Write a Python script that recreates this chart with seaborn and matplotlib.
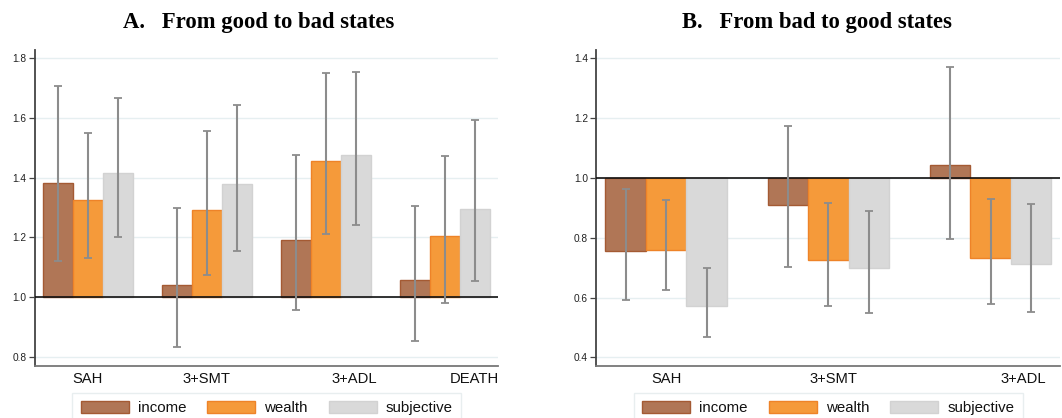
import numpy as np
import pandas as pd
import matplotlib
matplotlib.use("Agg")
import matplotlib.pyplot as plt
import seaborn as sns

# Panel A: from good to bad states
cats_a = ["SAH", "3+SMT", "3+ADL", "DEATH"]
income_a = [1.382, 1.040, 1.190, 1.056]
income_a_lo = [1.120, 0.834, 0.958, 0.853]
income_a_hi = [1.708, 1.300, 1.476, 1.306]
wealth_a = [1.325, 1.293, 1.456, 1.204]
wealth_a_lo = [1.132, 1.074, 1.211, 0.981]
wealth_a_hi = [1.550, 1.555, 1.749, 1.473]
subj_a = [1.417, 1.379, 1.475, 1.295]
subj_a_lo = [1.202, 1.154, 1.240, 1.054]
subj_a_hi = [1.667, 1.643, 1.753, 1.594]

# Panel B: from bad to good states
cats_b = ["SAH", "3+SMT", "3+ADL"]
income_b = [0.755, 0.909, 1.044]
income_b_lo = [0.591, 0.703, 0.795]
income_b_hi = [0.964, 1.174, 1.370]
wealth_b = [0.759, 0.725, 0.733]
wealth_b_lo = [0.624, 0.573, 0.579]
wealth_b_hi = [0.926, 0.915, 0.930]
subj_b = [0.573, 0.698, 0.712]
subj_b_lo = [0.469, 0.548, 0.551]
subj_b_hi = [0.699, 0.889, 0.914]

series = ["income", "wealth", "subjective"]
colors = {"income": "#B07656", "wealth": "#F59A3A", "subjective": "#D9D9D9"}
edges = {"income": "#A45A33", "wealth": "#EE8328", "subjective": "#D2D2D2"}


def long_frame(cats, vals, los, his):
    rows = []
    for s, v, lo, hi in zip(series, vals, los, his):
        for c, a, b, d in zip(cats, v, lo, hi):
            rows.append({"cat": c, "series": s, "value": a, "lo": b, "hi": d})
    return pd.DataFrame(rows)


df_a = long_frame(cats_a, [income_a, wealth_a, subj_a],
                  [income_a_lo, wealth_a_lo, subj_a_lo],
                  [income_a_hi, wealth_a_hi, subj_a_hi])
df_b = long_frame(cats_b, [income_b, wealth_b, subj_b],
                  [income_b_lo, wealth_b_lo, subj_b_lo],
                  [income_b_hi, wealth_b_hi, subj_b_hi])

sns.set_style("white")
plt.rcParams["font.family"] = ["Liberation Sans", "DejaVu Sans"]

fig = plt.figure(figsize=(10.62, 4.18), dpi=100)
ax_a = fig.add_axes([0.033, 0.1244, 0.436, 0.756])
ax_b = fig.add_axes([0.5615, 0.1244, 0.437, 0.756])


def draw_panel(ax, df, cats, title, title_x, ylim, yticks, xlim, label_pos):
    df = df.copy()
    df["height"] = df["value"] - 1.0
    sns.barplot(data=df, x="cat", y="height", hue="series", order=cats,
                hue_order=series, palette=colors, saturation=1, width=0.75, gap=0,
                bottom=1.0, errorbar=None, legend=False, ax=ax, zorder=2,
                linewidth=1.0)
    for cont, s in zip(ax.containers, series):
        sub = df[df["series"] == s].set_index("cat").loc[cats]
        xs = []
        for p in cont.patches:
            p.set_edgecolor(edges[s])
            xs.append(p.get_x() + p.get_width() / 2)
        yerr = [sub["value"] - sub["lo"], sub["hi"] - sub["value"]]
        ax.errorbar(xs, sub["value"], yerr=yerr, fmt="none", ecolor="#8C8C8C",
                    elinewidth=1.5, capsize=3, capthick=1.3, zorder=4)
    ax.axhline(1.0, color="#111111", lw=1.2, zorder=3)
    ax.set_ylim(*ylim)
    ax.set_xlim(*xlim)
    ax.set_yticks(yticks)
    ax.set_yticklabels([f"{t:.1f}" for t in yticks])
    ax.yaxis.grid(True, color="#E6EFF1", lw=1.0, zorder=0)
    ax.set_axisbelow(True)
    ax.set_xticks(label_pos)
    ax.set_xticklabels(cats)
    ax.set_xlabel("")
    ax.set_ylabel("")
    ax.tick_params(axis="x", length=0, pad=4, labelsize=10.6, colors="#111111")
    ax.tick_params(axis="y", length=4, width=0.9, pad=2, labelsize=7.3,
                   color="#444444", labelcolor="#222222", left=True)
    for side in ["top", "right"]:
        ax.spines[side].set_visible(False)
    ax.spines["left"].set_color("#444444")
    ax.spines["left"].set_linewidth(1.3)
    ax.spines["bottom"].set_color("#777777")
    ax.spines["bottom"].set_linewidth(1.3)
    ax.set_title(title, x=title_x, pad=16, fontsize=16.3, fontweight="bold",
                 family="Liberation Serif", color="black")
    handles = [plt.Rectangle((0, 0), 1, 1, facecolor=colors[s], edgecolor=edges[s],
                             lw=1.0) for s in series]
    leg = ax.legend(handles, series, loc="upper center", bbox_to_anchor=(0.5, -0.085),
                    borderaxespad=0, ncol=3, frameon=True, fontsize=10.8,
                    handlelength=3.2, handleheight=0.85, handletextpad=0.6,
                    columnspacing=1.4, borderpad=0.55, fancybox=False)
    leg.get_frame().set_edgecolor("#E3EAEC")
    leg.get_frame().set_linewidth(1.0)
    for t in leg.get_texts():
        t.set_color("#111111")


draw_panel(ax_a, df_a, cats_a, "A.   From good to bad states", 0.482,
           (0.77, 1.827), [0.8, 1.0, 1.2, 1.4, 1.6, 1.8], (-0.445, 3.445),
           [0, 0.994, 2.24, 3.25])
draw_panel(ax_b, df_b, cats_b, "B.   From bad to good states", 0.476,
           (0.371, 1.428), [0.4, 0.6, 0.8, 1.0, 1.2, 1.4], (-0.431, 2.431),
           [0, 1.03, 2.2])

fig.savefig("out.png", dpi=100)
